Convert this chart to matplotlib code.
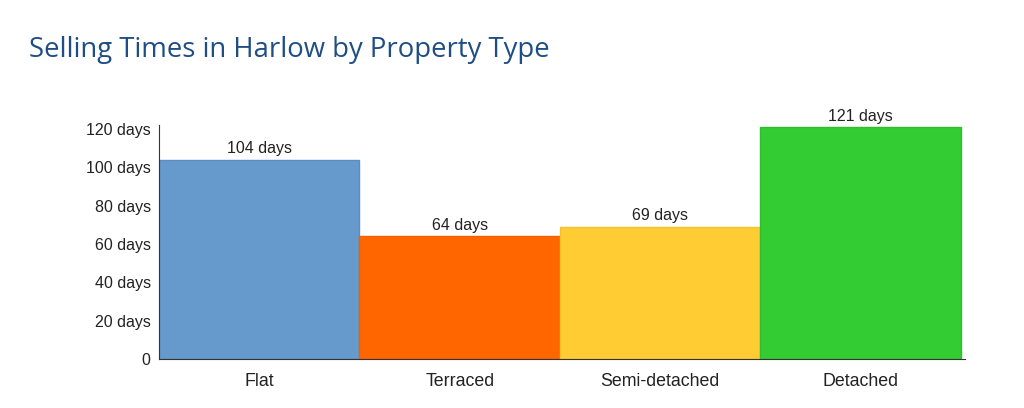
import matplotlib.pyplot as plt

# data
types = ["Flat", "Terraced", "Semi-detached", "Detached"]
days = [104, 64, 69, 121]
colours = ["#6699CC", "#FF6600", "#FFCC33", "#33CC33"]
edges = ["#5B8DC0", "#F26000", "#F5C22E", "#2EBE2E"]
yticks = [0, 20, 40, 60, 80, 100, 120]
ytick_labels = ["0", "20 days", "40 days", "60 days", "80 days", "100 days", "120 days"]

fig = plt.figure(figsize=(10.24, 4.08), dpi=100)
fig.patch.set_facecolor("white")

ax = fig.add_axes([0.1553, 0.120, 0.787, 0.5735])

x = range(len(types))
ax.bar(x, days, width=1.0, color=colours, edgecolor=edges, linewidth=1)

for i, d in enumerate(days):
    ax.text(i, d + 1.8, str(d) + " days", ha="center", va="bottom",
            fontsize=11.5, family="Liberation Sans", color="#222222")

ax.set_xlim(-0.5, 3.52)
ax.set_ylim(0, 122)
ax.set_xticks(list(x))
ax.set_xticklabels(types, fontsize=12.8, family="Liberation Sans", color="#222222")
ax.set_yticks(yticks)
ax.set_yticklabels(ytick_labels, fontsize=11.5, family="Liberation Sans", color="#222222")
ax.tick_params(axis="both", length=0)
ax.tick_params(axis="x", pad=10)
ax.tick_params(axis="y", pad=6)

for side in ["top", "right"]:
    ax.spines[side].set_visible(False)
ax.spines["left"].set_color("#333333")
ax.spines["bottom"].set_color("#333333")

fig.text(0.028, 0.877, "Selling Times in Harlow by Property Type", fontsize=19.8,
         family="Open Sans", color="#1F4E85", ha="left", va="center")

fig.savefig("out.png", dpi=100)
